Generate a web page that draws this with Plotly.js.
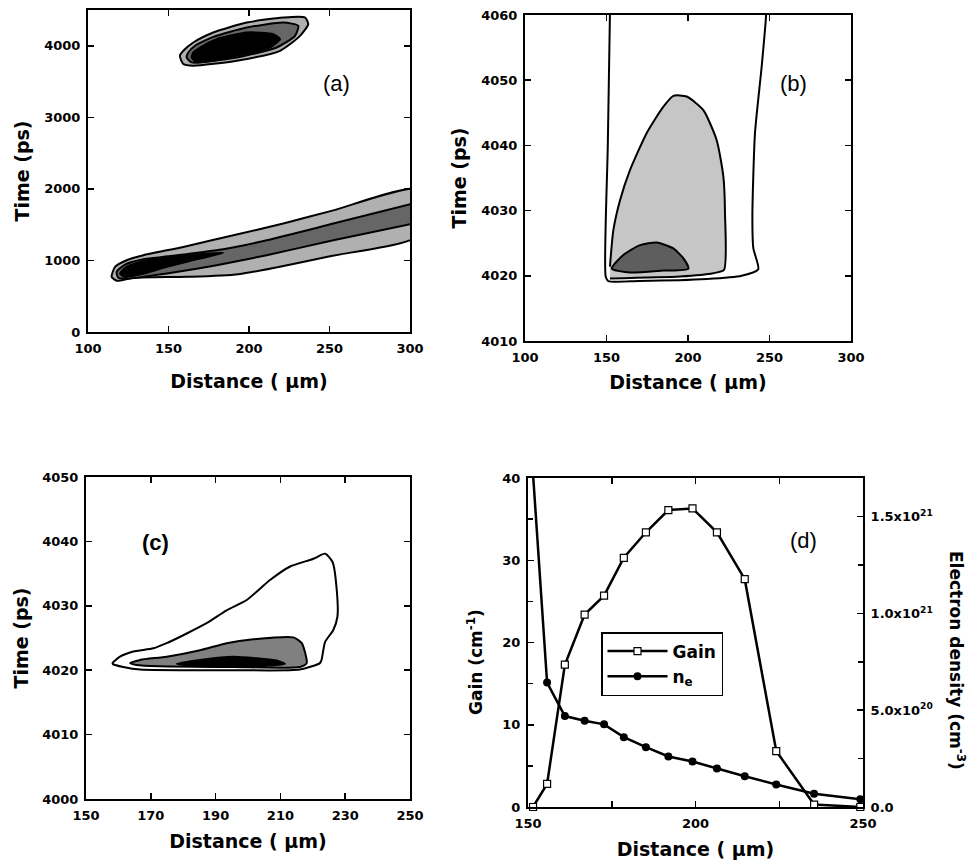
<!DOCTYPE html>
<html>
<head>
<meta charset="utf-8">
<script src="https://cdn.plot.ly/plotly-3.0.1.min.js"></script>
<style>html,body{margin:0;padding:0;background:#fff;}#chart{width:969px;height:863px;}</style>
</head>
<body>
<div id="chart"></div>
<script>
// ---------- Panel (a): gain contours, Time (ps) vs Distance (um) ----------
const aTopOuterX = [157.1,159.2,165.4,192.4,219.3,231.7,236.8,234.8,221.3,198.6,177.8,165.4,159.2,157.1];
const aTopOuterY = [3861,3745,3721,3791,3930,4139,4302,4395,4395,4325,4186,4046,3930,3861];
const aTopMidX = [161.3,164.4,192.4,217.2,228.6,230.6,221.3,198.6,177.8,166.5,162.3,161.3];
const aTopMidY = [3837,3768,3837,3976,4139,4279,4325,4255,4125,4000,3907,3837];
const aTopCoreX = [164.4,167.5,192.4,213.0,219.3,215.1,198.6,179.9,169.6,165.4,164.4];
const aTopCoreY = [3837,3768,3861,3976,4093,4163,4186,4093,3976,3907,3837];
const aBandOuterX = [114.7,116.8,124.0,134.4,159.2,190.3,221.3,252.4,305,305,250.3,193.4,161.3,128.2,118.0,114.7];
const aBandOuterY = [770,910,1003,1073,1189,1352,1515,1700,1996,1345,1059,808,771,757,715,770];
const aBandMidX = [305,252.4,211.0,184.0,159.2,134.4,123.0,117.8,118.8,126.1,148.9,179.9,211.0,252.4,305];
const aBandMidY = [1813,1515,1282,1157,1083,1017,943,841,757,748,818,934,1073,1282,1528];
const aBandCoreX = [119.9,124.0,134.4,159.2,184.0,169.6,148.9,132.3,123.0,119.9];
const aBandCoreY = [818,910,990,1064,1106,1027,910,803,771,818];

// ---------- Panel (b) ----------
const bOuterX = [152.4,152.1,150.8,149.5,151.1,170.0,211.5,232.9,243.1,240.1,239.5,241.1,245.2,247.9,248.3];
const bOuterY = [4065,4060,4040,4019.9,4019.2,4019.2,4019.5,4020.0,4021.0,4024.2,4029.1,4041.9,4052.1,4060,4065];
const bLightX = [152.1,154.2,158.3,164.4,174.7,184.8,191.0,199.2,209.4,217.6,221.7,222.7,222.1,215.5,195.1,152.1];
const bLightY = [4021.4,4027.0,4031.6,4036.2,4041.9,4045.9,4047.6,4047.5,4045.4,4040.8,4035.2,4029.6,4020.9,4020.4,4019.9,4019.6];
const bDarkX = [153.2,160.3,170.6,180.8,191.0,197.1,200.2,184.8,164.4,153.2];
const bDarkY = [4021.1,4023.2,4024.7,4025.1,4024.2,4022.7,4021.1,4020.8,4020.5,4021.1];

// ---------- Panel (c) ----------
const cOuterX = [158.2,160.5,164.6,170.8,174.9,181.1,187.2,193.4,199.6,206.8,213.0,220.2,223.8,226.1,227.4,227.6,226.3,223.8,222.7,222.2,216.0,195.5,166.7,161.5,158.4,158.2];
const cOuterY = [4021.1,4022.1,4022.9,4023.4,4024.2,4025.7,4027.3,4029.3,4030.9,4034.0,4036.1,4037.3,4038.1,4036.8,4032.4,4028.3,4026.2,4024.4,4021.6,4021.1,4020.1,4020.0,4020.1,4020.5,4020.9,4021.1];
const cGrayX = [163.6,166.7,174.9,185.2,193.4,201.6,214.0,216.6,218.1,216.0,195.5,172.8,165.6,163.6];
const cGrayY = [4021.1,4021.6,4022.1,4023.1,4024.2,4024.8,4025.1,4024.2,4021.1,4020.5,4020.5,4020.6,4020.8,4021.1];
const cCoreX = [178.0,185.2,195.5,203.7,208.8,211.4,205.8,195.5,185.2,178.0];
const cCoreY = [4021.0,4021.6,4022.1,4021.8,4021.5,4021.0,4020.7,4020.5,4020.6,4021.0];

// ---------- Panel (d): gain and electron density ----------
const dDistance = [151.5,155.7,161.0,166.9,172.7,178.6,185.2,191.9,199.1,206.4,214.7,224.1,235.4,249.2];
const dGain = [0,2.8,17.3,23.4,25.7,30.3,33.4,36.1,36.3,33.4,27.7,6.8,0.3,0];
const dNe = [1.72e21,6.43e20,4.70e20,4.46e20,4.27e20,3.61e20,3.09e20,2.61e20,2.35e20,1.99e20,1.59e20,1.16e20,6.9e19,4.0e19];
const neTickVals = [0,5e20,1e21,1.5e21];
const neTickText = ['0.0','5.0x10<sup>20</sup>','1.0x10<sup>21</sup>','1.5x10<sup>21</sup>'];

// ---------- styling ----------
const W = 969, H = 863;
const FONT = 'DejaVu Sans';
const tickFont = {family: FONT, size: 13, weight: 700, color: '#000'};
const titleFont = {family: FONT, size: 19, weight: 700, color: '#000'};
const LIGHT = '#b0b0b0', MID = '#666666', DARK = '#000000';

function poly(x, y, fill, xa, ya, lw) {
  return {type: 'scatter', mode: 'lines', x: x, y: y, xaxis: xa, yaxis: ya,
    fill: fill ? 'toself' : 'none', fillcolor: fill || 'rgba(0,0,0,0)',
    line: {color: '#000', width: lw || 2, shape: 'spline', smoothing: 0.6},
    showlegend: false, hoverinfo: 'skip'};
}

const traces = [
  poly(aTopOuterX, aTopOuterY, LIGHT, 'x', 'y'),
  poly(aTopMidX, aTopMidY, MID, 'x', 'y'),
  poly(aTopCoreX, aTopCoreY, DARK, 'x', 'y'),
  poly(aBandOuterX, aBandOuterY, LIGHT, 'x', 'y'),
  poly(aBandMidX, aBandMidY, MID, 'x', 'y'),
  poly(aBandCoreX, aBandCoreY, DARK, 'x', 'y'),
  poly(bOuterX, bOuterY, null, 'x2', 'y2'),
  poly(bLightX, bLightY, '#c6c6c6', 'x2', 'y2'),
  poly(bDarkX, bDarkY, '#5e5e5e', 'x2', 'y2'),
  poly(cOuterX, cOuterY, '#ffffff', 'x3', 'y3'),
  poly(cGrayX, cGrayY, '#808080', 'x3', 'y3'),
  poly(cCoreX, cCoreY, DARK, 'x3', 'y3'),
  {type: 'scatter', mode: 'lines+markers', name: 'Gain', x: dDistance, y: dGain,
   xaxis: 'x4', yaxis: 'y4', line: {color: '#000', width: 2.5},
   marker: {symbol: 'square', size: 7, color: '#fff', line: {color: '#000', width: 1.2}}, cliponaxis: false},
  {type: 'scatter', mode: 'lines+markers', name: 'n<sub>e</sub>', x: dDistance, y: dNe,
   xaxis: 'x4', yaxis: 'y5', line: {color: '#000', width: 2.5},
   marker: {symbol: 'circle', size: 8, color: '#000'}}
];

function axis(px0, px1, range, dtick, vertical, extra) {
  const dom = vertical ? [1 - px1 / H, 1 - px0 / H] : [px0 / W, px1 / W];
  return Object.assign({
    domain: dom, range: range, dtick: dtick, tick0: range[0], tickmode: 'linear',
    showline: true, linecolor: '#000', linewidth: 2, mirror: 'ticks',
    ticks: 'inside', ticklen: 6, tickwidth: 1.5, tickcolor: '#000',
    showgrid: false, zeroline: false, tickfont: tickFont, ticklabelstandoff: 3,
    fixedrange: true, automargin: false
  }, extra || {});
}
function ttl(text, standoff) { return {text: text, font: titleFont, standoff: standoff}; }

function ann(text, px, py, size, angle) {
  return {text: text, x: px / W, y: 1 - py / H, xref: 'paper', yref: 'paper',
    xanchor: 'center', yanchor: 'middle', showarrow: false, textangle: angle || 0,
    font: {family: FONT, size: size, weight: 700, color: '#000'}};
}
function label(text, px, py, bold) {
  return {text: text, x: px / W, y: 1 - py / H, xref: 'paper', yref: 'paper',
    xanchor: 'center', yanchor: 'middle', showarrow: false,
    font: {family: 'Liberation Sans', size: 22, weight: bold ? 700 : 400, color: '#000'}};
}

const DIST = 'Distance ( \u03bcm)';
const TIME = 'Time (ps)';

const layout = {
  width: W, height: H, margin: {l: 0, r: 0, t: 0, b: 0},
  paper_bgcolor: '#fff', plot_bgcolor: '#fff',
  xaxis: axis(88, 410, [100, 300], 50, false, {anchor: 'y', title: ttl(DIST, 20)}),
  yaxis: axis(10, 332, [0, 4500], 1000, true, {anchor: 'x', title: ttl(TIME, 10)}),
  xaxis2: axis(525, 851, [100, 300], 50, false, {anchor: 'y2', title: ttl(DIST, 12)}),
  yaxis2: axis(15, 341, [4010, 4060], 10, true, {anchor: 'x2', title: ttl(TIME, 10)}),
  xaxis3: axis(86, 410, [150, 250], 20, false, {anchor: 'y3', title: ttl(DIST, 13)}),
  yaxis3: axis(477, 799, [4000, 4050], 10, true, {anchor: 'x3', title: ttl(TIME, 9)}),
  xaxis4: axis(528, 863, [150, 250], 50, false, {anchor: 'y4', title: ttl(DIST, 13),
    minor: {dtick: 25, tick0: 150, ticks: 'inside', ticklen: 6, tickwidth: 1.5, tickcolor: '#000'}}),
  yaxis4: axis(478, 807, [0, 40], 10, true, {anchor: 'x4', mirror: false,
    minor: {dtick: 5, tick0: 0, ticks: 'inside', ticklen: 5, tickwidth: 1.5, tickcolor: '#000'}}),
  yaxis5: Object.assign(axis(478, 807, [0, 1.70e21], 5e20, true, {}), {
    overlaying: 'y4', anchor: 'x4', side: 'right', mirror: false, domain: undefined,
    tickmode: 'array', tickvals: neTickVals, ticktext: neTickText,
    minor: {dtick: 2.5e20, tick0: 0, ticks: 'inside', ticklen: 5, tickwidth: 1.5, tickcolor: '#000'}}),
  showlegend: true,
  legend: {x: 601 / W, y: 1 - 632 / H, xanchor: 'left', yanchor: 'top',
    bgcolor: '#fff', bordercolor: '#000', borderwidth: 1.5, itemwidth: 60,
    font: {family: FONT, size: 17, weight: 700, color: '#000'}},
  annotations: [
    ann('Gain (cm<sup>-1</sup>)', 475, 662, 17, -90),
    ann('Electron density (cm<sup>-3</sup>)', 957, 660, 17, 90),
    label('(a)', 336, 83, false),
    label('(b)', 793, 83, false),
    label('(c)', 155, 542, true),
    label('(d)', 803, 540, false)
  ]
};

Plotly.newPlot('chart', traces, layout, {displayModeBar: false, staticPlot: true});
</script>
</body>
</html>
